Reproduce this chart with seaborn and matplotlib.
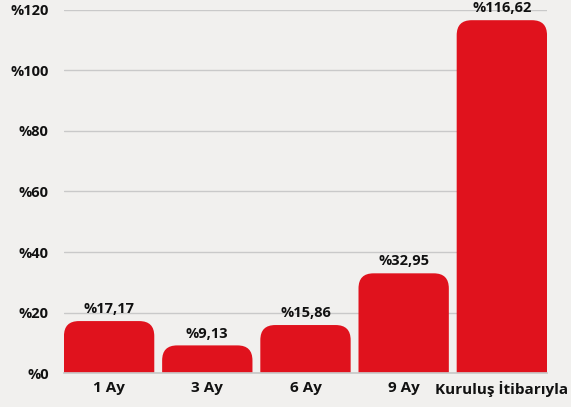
import matplotlib
matplotlib.use("Agg")
import matplotlib.pyplot as plt
import pandas as pd
import seaborn as sns
from matplotlib.patches import FancyBboxPatch

periods = ["1 Ay", "3 Ay", "6 Ay", "9 Ay", "Kuruluş İtibarıyla"]
returns = [17.17, 9.13, 15.86, 32.95, 116.62]
y_ticks = [0, 20, 40, 60, 80, 100, 120]

BG = "#f1f0ee"
RED = "#e0121d"

sns.set_theme(style="white")
plt.rcParams["font.family"] = ["Open Sans", "DejaVu Sans"]

df = pd.DataFrame({"period": periods, "value": returns})

fig = plt.figure(figsize=(5.71, 4.07), dpi=100, facecolor=BG)
ax = fig.add_axes([0.112, 0.0835, 0.846, 0.892])
ax.set_facecolor(BG)

sns.barplot(data=df, x="period", y="value", color=RED, width=0.92,
            saturation=1, ax=ax, zorder=3)

ax.set_xlim(-0.46, 4.46)
ax.set_ylim(0, 120)
ax.set_yticks(y_ticks)
ax.set_yticklabels([f"%{t}" for t in y_ticks], fontweight="bold", fontsize=10.5)
ax.set_xticklabels(periods, fontweight="bold", fontsize=11)
ax.tick_params(axis="both", length=0, colors="#111111")
ax.tick_params(axis="y", pad=11)
ax.tick_params(axis="x", pad=6)
ax.set_xlabel("")
ax.set_ylabel("")
ax.yaxis.grid(True, color="#c9c9c9", linewidth=1, zorder=0)
for side in ["top", "right", "left"]:
    ax.spines[side].set_visible(False)
ax.spines["bottom"].set_color("#c9c9c9")
ax.spines["bottom"].set_zorder(4)

# swap the plain bars for ones with rounded tops
fig.canvas.draw()
bbox = ax.get_window_extent()
ux = (ax.get_xlim()[1] - ax.get_xlim()[0]) / bbox.width
uy = (ax.get_ylim()[1] - ax.get_ylim()[0]) / bbox.height
radius_px = 15
for bar in list(ax.patches):
    x0, w, h = bar.get_x(), bar.get_width(), bar.get_height()
    bar.remove()
    r = radius_px * ux
    extra = radius_px * uy
    box = FancyBboxPatch((x0, -extra), w, h + extra,
                         boxstyle=f"round,pad=0,rounding_size={r}",
                         mutation_aspect=uy / ux, facecolor=RED,
                         edgecolor="none", zorder=3, clip_on=True)
    ax.add_patch(box)
    ax.text(x0 + w / 2, h + 1.6, f"%{h:.2f}".replace(".", ","),
            ha="center", va="bottom", fontsize=10.5, fontweight="bold",
            color="#111111", zorder=5)

fig.savefig("out.png", dpi=100, facecolor=BG)
